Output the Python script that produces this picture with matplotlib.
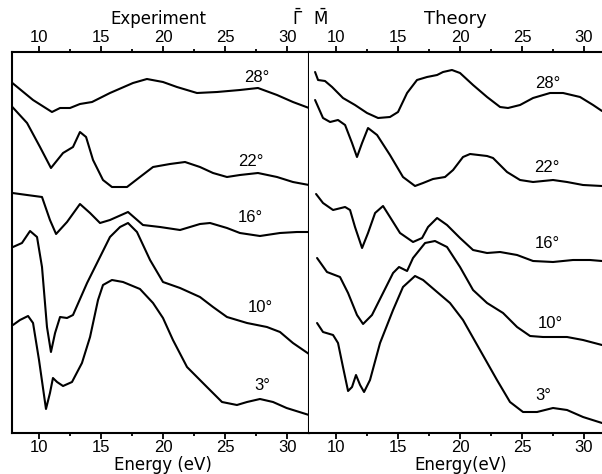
import matplotlib
matplotlib.use("Agg")
import matplotlib.pyplot as plt
from matplotlib.ticker import MultipleLocator

# ---------------- data (energy in eV, intensity in arbitrary units, curves offset) ----------------
# Experiment
exp_28_E = [7.9, 9.56, 11.08, 11.73, 12.53, 13.33, 14.3, 15.74, 17.59, 18.71, 20.0, 21.12, 22.73, 24.34, 26.18, 27.63, 29.16, 30.44, 31.73]
exp_28_I = [350, 333, 321, 325, 325, 329, 331, 340, 350, 354, 351, 346, 340, 341, 343, 345, 338, 331, 325]

exp_22_E = [7.9, 9.08, 10.12, 11.0, 11.97, 12.77, 13.33, 13.82, 14.38, 15.18, 15.9, 17.11, 18.15, 19.2, 20.56, 21.77, 22.97, 24.02, 25.14, 26.18, 27.63, 29.16, 30.44, 31.73]
exp_22_I = [326, 310, 286, 265, 280, 286, 301, 296, 273, 253, 246, 246, 256, 266, 269, 271, 266, 260, 256, 258, 260, 256, 251, 248]

exp_16_E = [7.9, 9.08, 10.28, 10.92, 11.41, 12.29, 13.33, 14.14, 14.94, 15.74, 17.19, 18.39, 19.76, 21.37, 22.97, 23.78, 25.14, 26.18, 27.79, 29.4, 30.76, 31.73]
exp_16_I = [240, 238, 236, 213, 199, 211, 229, 220, 210, 213, 221, 208, 206, 203, 209, 210, 205, 200, 197, 200, 201, 201]

exp_10_E = [7.95, 8.67, 9.32, 9.88, 10.28, 10.68, 11.0, 11.33, 11.73, 12.29, 12.77, 13.9, 14.94, 15.74, 16.55, 17.19, 17.91, 18.96, 20.0, 21.37, 22.97, 24.02, 25.14, 26.75, 28.35, 29.4, 30.44, 31.73]
exp_10_I = [186, 190, 202, 196, 166, 106, 81, 100, 116, 115, 118, 150, 176, 196, 206, 210, 201, 173, 151, 145, 136, 126, 116, 110, 106, 101, 90, 79]

exp_3_E = [7.95, 8.51, 9.16, 9.56, 10.04, 10.6, 10.92, 11.16, 11.49, 11.97, 12.69, 13.49, 14.14, 14.78, 15.18, 15.9, 16.79, 18.15, 19.2, 20.0, 20.8, 21.93, 23.53, 24.74, 25.94, 26.75, 27.79, 28.84, 29.93, 31.73]
exp_3_I = [108, 113, 117, 110, 73, 24, 40, 55, 51, 47, 51, 70, 96, 133, 148, 153, 151, 144, 130, 115, 93, 66, 46, 31, 28, 31, 34, 31, 25, 18]

# Theory
th_28_E = [8.31, 8.55, 9.11, 9.68, 10.56, 11.53, 12.5, 13.39, 14.35, 15.0, 15.73, 16.53, 17.34, 18.15, 18.63, 19.35, 20.0, 21.05, 22.18, 23.23, 23.87, 24.84, 25.89, 27.26, 28.31, 29.68, 30.73, 31.45]
th_28_I = [361, 353, 352, 346, 335, 328, 320, 315, 316, 321, 340, 353, 356, 358, 361, 363, 360, 348, 336, 326, 325, 328, 335, 340, 340, 336, 328, 322]

th_22_E = [8.31, 8.95, 9.52, 10.16, 10.73, 11.29, 11.69, 12.1, 12.58, 13.31, 14.35, 15.4, 16.37, 17.02, 17.82, 18.79, 19.44, 20.24, 20.81, 22.18, 22.66, 23.79, 24.84, 25.89, 27.5, 28.63, 29.92, 31.45]
th_22_I = [333, 315, 311, 313, 308, 290, 276, 290, 305, 298, 278, 256, 247, 250, 254, 256, 263, 276, 279, 277, 275, 261, 253, 251, 253, 251, 248, 247]

th_16_E = [8.39, 8.95, 9.76, 10.73, 11.13, 11.53, 12.1, 12.58, 13.15, 13.79, 14.35, 15.16, 16.21, 16.94, 17.42, 18.15, 18.95, 20.0, 21.05, 22.18, 23.23, 24.6, 25.89, 27.5, 29.11, 30.48, 31.45]
th_16_I = [239, 230, 223, 226, 223, 206, 185, 200, 220, 227, 216, 200, 191, 195, 206, 215, 208, 195, 183, 180, 181, 178, 172, 171, 173, 173, 172]

th_10_E = [8.47, 9.27, 10.32, 10.97, 11.69, 12.18, 12.9, 13.79, 14.6, 15.08, 15.73, 16.21, 17.18, 17.98, 18.95, 20.0, 21.05, 22.18, 23.47, 24.6, 25.65, 26.69, 28.63, 29.92, 31.45]
th_10_I = [175, 161, 156, 140, 118, 109, 118, 140, 160, 166, 162, 175, 190, 192, 186, 166, 143, 130, 120, 106, 97, 96, 96, 93, 88]

th_3_E = [8.47, 8.95, 9.76, 10.16, 10.56, 10.97, 11.29, 11.61, 11.94, 12.26, 12.74, 13.55, 14.6, 15.4, 16.37, 17.02, 18.15, 19.19, 20.24, 21.61, 22.98, 24.03, 25.08, 26.21, 27.5, 28.63, 29.92, 31.45]
th_3_I = [110, 101, 98, 90, 66, 42, 46, 58, 48, 41, 53, 90, 123, 146, 157, 153, 141, 130, 113, 83, 53, 31, 21, 21, 25, 23, 16, 10]

angle_labels = ["28°", "22°", "16°", "10°", "3°"]
exp_label_pos = [(27.55, 356), (27.07, 271), (26.99, 216), (27.79, 126), (27.95, 48)]
th_label_pos = [(27.1, 350), (27.0, 266), (27.0, 190), (27.26, 110), (26.69, 38)]

xticks = [10, 15, 20, 25, 30]

# ---------------- figure ----------------
fig = plt.figure(figsize=(6.02, 4.74), dpi=100)
W, H = 602.0, 474.0
axL = fig.add_axes([12 / W, 41 / H, 297 / W, 381 / H])
axR = fig.add_axes([309 / W, 41 / H, 293 / W, 381 / H])

FAM = ["Liberation Sans", "DejaVu Sans"]

exp_series = [(exp_28_E, exp_28_I), (exp_22_E, exp_22_I), (exp_16_E, exp_16_I),
              (exp_10_E, exp_10_I), (exp_3_E, exp_3_I)]
th_series = [(th_28_E, th_28_I), (th_22_E, th_22_I), (th_16_E, th_16_I),
             (th_10_E, th_10_I), (th_3_E, th_3_I)]

for ax, series, lpos, xlim in [(axL, exp_series, exp_label_pos, (7.87, 31.73)),
                               (axR, th_series, th_label_pos, (7.82, 31.45))]:
    for (e, i) in series:
        ax.plot(e, i, color="black", lw=1.5, solid_joinstyle="round", solid_capstyle="round")
    for lab, (x, y) in zip(angle_labels, lpos):
        ax.text(x, y, lab, ha="center", va="center", family=FAM, size=12)
    ax.set_xlim(*xlim)
    ax.set_ylim(0, 381)
    ax.set_yticks([])
    ax.set_xticks(xticks)
    ax.xaxis.set_minor_locator(MultipleLocator(2.5))
    ax.tick_params(axis="x", which="both", direction="out", top=True, bottom=True,
                   labeltop=True, labelbottom=True, width=1.3, pad=1)
    ax.tick_params(axis="x", which="major", length=4)
    ax.tick_params(axis="x", which="minor", length=2)
    for lab in ax.get_xticklabels():
        lab.set_fontfamily(FAM)
        lab.set_fontsize(12)
    for sp in ax.spines.values():
        sp.set_linewidth(1.5)

axR.spines["left"].set_visible(False)
axR.spines["right"].set_visible(False)

# ---------------- headings ----------------
fig.text(158 / W, 1 - 19 / H, "Experiment", ha="center", va="center", size=12)
fig.text(298 / W, 1 - 19 / H, r"$\bar{\Gamma}$", ha="center", va="center", size=12)
fig.text(320 / W, 1 - 19 / H, r"$\bar{\mathrm{M}}$", ha="center", va="center", size=12)
fig.text(455 / W, 1 - 19 / H, "Theory", ha="center", va="center", size=13)
fig.text(163 / W, 1 - 465 / H, "Energy (eV)", ha="center", va="center", size=12)
fig.text(461 / W, 1 - 465 / H, "Energy(eV)", ha="center", va="center", size=12)

fig.savefig("out.png", dpi=100)
